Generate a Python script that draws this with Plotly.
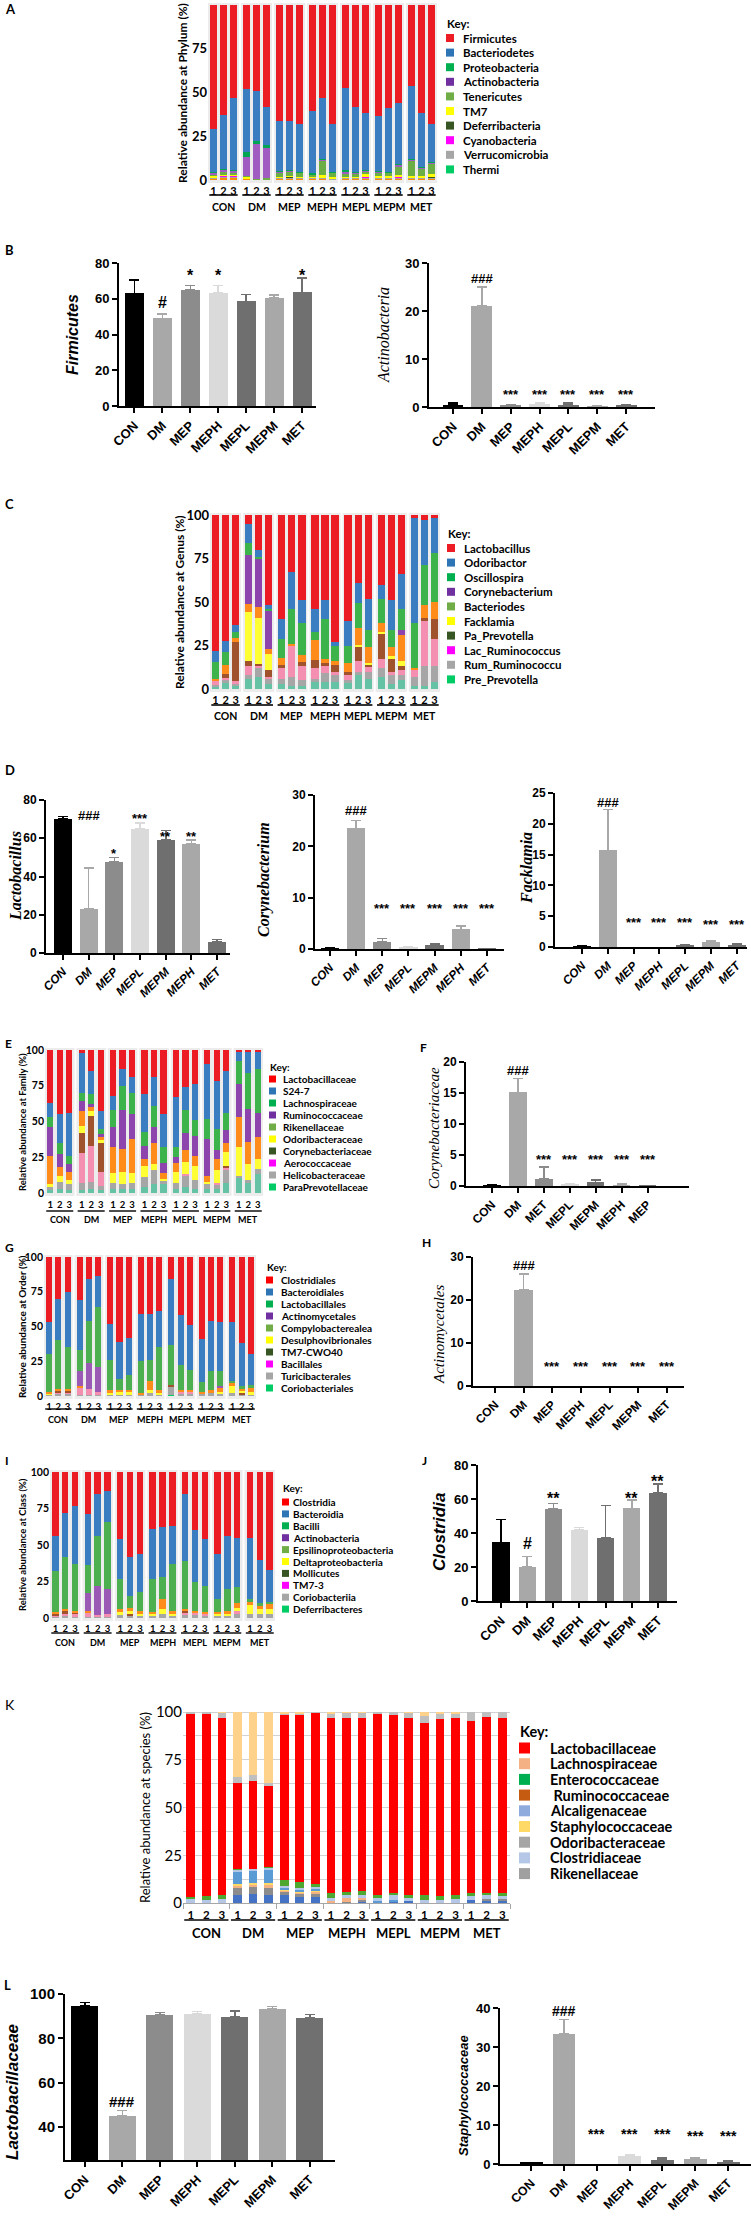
import plotly.graph_objects as go

W, H = 751, 2217
LATO = "Lato"
ARIAL = "Liberation Sans"
SERIF = "Liberation Serif"

# ====================== DATA ======================
groups = ["CON", "DM", "MEP", "MEPH", "MEPL", "MEPM", "MET"]
replicates = ["1", "2", "3"]

# ---- A: phylum (3 replicates x 7 groups) ----
phylum_key = ["Firmicutes", "Bacteriodetes", "Proteobacteria", "Actinobacteria", "Tenericutes",
              "TM7", "Deferribacteria", "Cyanobacteria", "Verrucomicrobia", "Thermi"]
phylum_key_colors = ["#ed1c24", "#2e75b6", "#00b050", "#7030a0", "#70ad47",
                     "#ffff00", "#375623", "#ff00ff", "#a6a6a6", "#00cc66"]
phy_firmicutes = [71, 63, 53, 48, 49, 58, 66, 66.5, 68, 60.5, 53, 68, 47.5, 58, 61.5, 63.5, 59, 56, 46, 61.5, 68]
phy_bacteriodetes = [24.4, 30.7, 41.2, 36, 28.7, 22, 28.9, 27.8, 27.4, 35.7, 34.8, 27.2, 47, 37.7, 32.7, 31.2, 36.4, 34.9, 42, 31.2, 21.7]
phy_proteobacteria = [0.5, 0.5, 0.5, 3, 1.5, 1.5, 0.3, 0.3, 0.3, 0.5, 0.5, 0.5, 0.5, 0.3, 0.3, 0.3, 0.3, 0.3, 0.3, 0.3, 0.3]
phy_actinobacteria = [1, 1.5, 1, 10.5, 20, 17.5, 0.3, 0.5, 0.3, 0.3, 0.5, 0.3, 1.5, 0.5, 0.5, 0.5, 0.3, 1.5, 0.5, 0.5, 0.3]
phy_tenericutes = [0.5, 1, 1, 0.5, 0.3, 0.5, 2.5, 2.5, 2, 1, 8.5, 2.5, 1.5, 1.5, 1.5, 2, 1.5, 4.5, 9, 4, 6.5]
phy_tm7 = [1, 1, 1, 1, 0, 0, 0.5, 0.5, 0.5, 0.5, 1, 0.5, 0.5, 0.5, 2, 1, 1, 1, 0.5, 1, 1]
phy_deferribacteria = [0, 0, 0, 0, 0, 0, 0, 0.3, 0, 0, 0, 0, 0, 0, 0, 0, 0, 0, 0, 0, 0.5]
phy_cyanobacteria = [0.3, 0.5, 0.5, 0, 0, 0, 0.2, 0.3, 0.2, 0.2, 0.2, 0.2, 0.2, 0.2, 0.2, 0.2, 0.2, 0.5, 0.2, 0.2, 0.2]
phy_verrucomicrobia = [0.3, 0.3, 0.3, 0, 0, 0, 0.3, 0.3, 0.3, 0.3, 0.5, 0.3, 0.3, 0.3, 0.3, 0.3, 0.3, 0.3, 0.5, 0.3, 0.5]
phy_others = [1, 1.5, 1.5, 1, 0.5, 0.5, 1, 1, 1, 1, 1, 0.5, 1, 1, 1, 1, 1, 1, 1, 1, 1]

# ---- B: phylum group means ----
firm_mean = [63, 49, 65, 63.2, 58.5, 60.3, 63.5]
firm_err = [7.5, 2.5, 2.5, 4.3, 3.8, 1.7, 8]
firm_sig = ["", "#", "*", "*", "", "", "*"]
actino_mean = [0.5, 21, 0.3, 0.6, 0.5, 0.2, 0.3]
actino_err = [0.3, 4, 0.2, 0.3, 0.3, 0.1, 0.1]
actino_sig = ["", "###", "***", "***", "***", "***", "***"]

# ---- C: genus ----
genus_key = ["Lactobacillus", "Odoribactor", "Oscillospira", "Corynebacterium", "Bacteriodes",
             "Facklamia", "Pa_Prevotella", "Lac_Ruminococcus", "Rum_Ruminococcu", "Pre_Prevotella"]
genus_key_colors = ["#ed1c24", "#2e75b6", "#00b050", "#7030a0", "#70ad47",
                    "#ffff00", "#375623", "#ff00ff", "#a6a6a6", "#00cc66"]
gen_lactobacillus = [78.4, 72.5, 63, 5, 20, 52, 60, 33, 49, 54, 49, 73, 61, 39, 48, 40, 49, 34, 2, 3, 2]
gen_odoribactor = [6.1, 6.5, 4, 11, 4, 2, 11, 21, 13, 13, 11, 2, 14, 11.5, 18, 8, 17, 20, 60, 26, 20]
gen_oscillospira = [9.6, 7, 3.5, 7, 1, 1, 11, 20, 18.5, 5, 23, 9, 10, 14.5, 10, 14, 10, 12, 26, 23, 28]
gen_corynebacterium = [0, 0, 0, 28, 28, 22, 0, 0, 0, 0, 0, 0, 0, 0, 0, 0, 0, 3, 0, 0, 0]
gen_other_a = [1.5, 5.5, 2.5, 5, 6, 3, 4, 1, 4, 11.5, 2, 2, 5, 9.5, 9, 5, 5, 15, 1, 7, 10]
gen_facklamia = [0, 0, 0, 28, 26.5, 9, 0, 0, 0, 0, 0, 0, 0, 1, 1, 1, 2, 3, 0, 0, 0]
gen_other_b = [0, 2, 22.5, 3, 1, 4, 2, 0, 2.5, 4.5, 1.5, 4, 2, 8.5, 1.5, 15, 7, 2, 0, 2, 11]
gen_lac_ruminococcus = [1.9, 1.5, 1.5, 5, 1.5, 1, 6, 18, 8, 6, 4.5, 2, 3, 6, 2.5, 5, 2, 3, 4, 26, 16]
gen_rum_ruminococcu = [1, 1.5, 1, 2, 5, 3, 3, 5, 3, 2, 5, 4, 1.5, 2, 4, 5, 5, 3, 5, 11, 9]
gen_pre_prevotella = [1.5, 3.5, 2, 6, 7, 3, 3, 2, 2, 4, 4, 4, 3.5, 8, 6, 7, 3, 5, 2, 2, 4]

# ---- D: genus group means ----
lac_cats = ["CON", "DM", "MEP", "MEPL", "MEPM", "MEPH", "MET"]
lac_mean = [70, 23, 47.5, 65, 59, 57, 6]
lac_err = [1.5, 21.5, 2.5, 3, 5, 2, 1]
lac_sig = ["", "###", "*", "***", "**", "**", ""]
cory_cats = ["CON", "DM", "MEP", "MEPL", "MEPM", "MEPH", "MET"]
cory_mean = [0.1, 23.5, 1.4, 0.3, 0.8, 3.8, 0.05]
cory_err = [0.05, 1.5, 0.6, 0.1, 0.2, 0.7, 0.02]
cory_sig = ["", "###", "***", "***", "***", "***", "***"]
fack_cats = ["CON", "DM", "MEP", "MEPH", "MEPL", "MEPM", "MET"]
fack_mean = [0.1, 15.7, 0, 0, 0.3, 0.85, 0.35]
fack_err = [0.05, 6.6, 0, 0, 0.1, 0.15, 0.2]
fack_sig = ["", "###", "***", "***", "***", "***", "***"]

# ---- E: family ----
family_key = ["Lactobacillaceae", "S24-7", "Lachnospiraceae", "Ruminococcaceae", "Rikenellaceae",
              "Odoribacteraceae", "Corynebacteriaceae", "Aerococcaceae", "Helicobacteraceae", "ParaPrevotellaceae"]
family_key_colors = ["#ff0000", "#2e75b6", "#00b050", "#7030a0", "#70ad47",
                     "#ffff00", "#375623", "#ff00ff", "#a6a6a6", "#00cc66"]
fam_lactobacillaceae = [37, 45, 44, 2, 15, 43, 32, 13, 19, 31, 19, 45, 33, 26, 24, 10, 22, 15, 1, 1, 1]
fam_s24_7 = [10, 20, 30, 28, 16, 12, 10, 12, 11, 26, 20, 23, 35, 16, 25, 38, 33, 29, 7, 15, 12]
fam_lachnospiraceae = [7, 8, 6, 6, 7, 4, 12, 17, 15, 10, 15, 11, 7, 16, 11, 14, 15, 12, 16, 25, 31]
fam_ruminococcaceae = [20, 9, 5, 7, 2, 2, 14, 27, 17, 9, 11, 7, 4, 12, 14, 26, 6, 9, 23, 23, 17]
fam_other_a = [20, 6, 6, 10, 3, 2, 18, 16, 24, 5, 15, 4, 6, 8, 7, 4, 8, 6, 21, 16, 15]
fam_odoribacteraceae = [2, 4, 3, 5, 3, 2, 7, 9, 7, 8, 4, 1, 8, 9, 10, 2, 9, 10, 20, 11, 7]
fam_corynebacteriaceae = [0, 0, 0, 14, 21, 20, 0, 0, 0, 0, 0, 0, 0, 0, 0, 0, 0, 1, 0, 0, 0]
fam_aerococcaceae = [0, 0, 0, 21, 25, 10, 0, 0, 0, 0, 0, 0, 0, 1, 0, 0, 1, 2, 0, 0, 0]
fam_helicobacteraceae = [2, 5, 4, 5, 5, 3, 4, 3, 4, 7, 10, 3, 4, 8, 6, 3, 3, 9, 1, 2, 4]
fam_paraprevotellaceae = [2, 3, 2, 2, 3, 2, 3, 3, 3, 4, 6, 6, 3, 4, 3, 3, 3, 7, 11, 7, 13]

# ---- F ----
fcory_cats = ["CON", "DM", "MET", "MEPL", "MEPM", "MEPH", "MEP"]
fcory_mean = [0.1, 15.1, 1.2, 0.2, 0.6, 0.15, 0.05]
fcory_err = [0.05, 2.2, 1.9, 0.1, 0.4, 0.25, 0.02]
fcory_sig = ["", "###", "***", "***", "***", "***", "***"]

# ---- G: order ----
order_key = ["Clostridiales", "Bacteroidiales", "Lactobacillales", "Actinomycetales", "Compylobacterealea",
             "Desulphovibrionales", "TM7-CWO40", "Bacillales", "Turicibacterales", "Coriobacteriales"]
order_key_colors = ["#ff0000", "#2e75b6", "#00b050", "#7030a0", "#70ad47",
                    "#ffff00", "#375623", "#ff00ff", "#a6a6a6", "#00cc66"]
ord_clostridiales = [47, 30, 25, 31, 16, 14, 48, 61, 58, 41, 41, 39, 16, 42, 49, 59, 46, 47, 47, 62, 70]
ord_bacteroidiales = [23, 30, 40, 36, 30, 22, 26, 27, 27, 34, 33, 26, 47, 36, 32, 31, 36, 35, 42, 31, 22]
ord_lactobacillales = [27, 35, 30, 15, 30, 43, 22, 8, 11, 23, 15, 31, 29, 18, 15, 7, 14, 11, 1, 2, 2]
ord_actinomycetales = [0, 0, 0, 11, 19, 18, 0, 0, 0, 0, 0, 0, 0, 0, 0, 0, 0, 1, 0, 0, 0]
ord_other_a = [1, 1.5, 1.5, 1, 0, 0, 1.5, 1, 1, 1, 7, 2, 0, 1, 1, 1, 2, 3, 3, 1, 3]
ord_desulphovibrionales = [1, 0, 0, 0, 0, 0, 1.5, 2, 2, 0, 2, 1, 0, 0, 0, 0, 0, 1, 5, 2, 2]
ord_tm7 = [0, 1, 1, 0, 0, 0, 0, 0, 0, 0, 0, 0, 1, 0, 0, 0, 0, 0, 0, 1, 0]
ord_bacillales = [0, 1, 1, 5, 4, 2, 0, 0, 0, 0, 0, 0, 0, 1, 1, 0, 0, 0, 0, 0, 0]
ord_turicibacterales = [1, 1.5, 1.5, 1, 1, 1, 1, 1, 1, 1, 2, 1, 6, 2, 2, 2, 2, 2, 2, 1, 1]
ord_coriobacteriales = [0, 0, 0, 0, 0, 0, 0, 0, 0, 0, 0, 0, 1, 0, 0, 0, 0, 0, 0, 0, 0]

# ---- H ----
actm_cats = ["CON", "DM", "MEP", "MEPH", "MEPL", "MEPM", "MET"]
actm_mean = [0, 22.3, 0, 0, 0, 0, 0]
actm_err = [0, 3.8, 0, 0, 0, 0, 0]
actm_sig = ["", "###", "***", "***", "***", "***", "***"]

# ---- I: class ----
class_key = ["Clostridia", "Bacteroidia", "Bacilli", "Actinobacteria", "Epsilinoproteobacteria",
             "Deltaproteobacteria", "Mollicutes", "TM7-3", "Coriobacteriia", "Deferribacteres"]
class_key_colors = ["#ff0000", "#2e75b6", "#00b050", "#7030a0", "#70ad47",
                    "#ffff00", "#375623", "#ff00ff", "#a6a6a6", "#00cc66"]
cls_clostridia = [44, 28, 23, 29, 15, 13, 46, 58, 56, 39, 38, 37, 15, 40, 46, 56, 44, 45, 45, 60, 67]
cls_bacteroidia = [24, 30, 40, 35, 29, 21, 27, 27, 26, 34, 34, 26, 46, 35, 32, 31, 36, 34, 42, 30, 22]
cls_bacilli = [28, 36, 32, 19, 34, 46, 21, 8, 13, 23, 15, 32, 33, 20, 18, 9, 15, 11, 2, 2, 1]
cls_actinobacteria = [0, 0, 0, 12, 20, 17, 0, 0, 0, 0, 0, 0, 0, 0, 0, 0, 0, 0, 0, 0, 0]
cls_other_a = [1, 1.5, 1, 1, 0, 0, 2, 2, 2, 1, 7, 2, 1, 1, 1, 1, 2, 3, 2, 2, 4]
cls_deltaproteobacteria = [0, 0, 0, 0, 0, 0, 2, 2, 1, 1, 3, 1, 0, 0, 0, 1, 1, 2, 6, 3, 3]
cls_mollicutes = [1, 1.5, 1.5, 0, 0, 0, 0, 1, 0, 0, 0, 0, 1, 0, 0, 0, 0, 0, 0, 0, 0]
cls_tm7_3 = [1, 1.5, 1.5, 3, 1, 2, 0, 0, 0, 0, 0, 0, 2, 2, 1, 0, 0, 2, 0, 0, 0]
cls_coriobacteriia = [1, 1.5, 1, 1, 1, 1, 2, 2, 2, 2, 3, 2, 2, 2, 2, 2, 2, 3, 3, 3, 3]

# ---- J ----
clos_mean = [34.5, 20, 54, 42, 37, 54.5, 63.5]
clos_err = [13.5, 6.3, 3.5, 1.2, 19.3, 4.8, 5.3]
clos_sig = ["", "#", "**", "", "", "**", "**"]

# ---- K: species ----
species_key = ["Lactobacillaceae", "Lachnospiraceae", "Enterococcaceae", " Ruminococcaceae", "Alcaligenaceae",
               "Staphylococcaceae", "Odoribacteraceae", "Clostridiaceae", "Rikenellaceae"]
species_key_colors = ["#ff0000", "#f4b183", "#00b050", "#c55a11", "#8faadc",
                      "#ffd966", "#a5a5a5", "#b4c7e7", "#a0a0a0"]
sp_dark_blue = [0, 0, 0, 4, 4.5, 4, 4, 3, 3, 0.5, 0, 1, 0, 1, 1, 0, 0, 0, 1.5, 1.5, 1.5]
sp_rikenellaceae = [0, 0, 0, 4, 4, 4, 2, 2, 2, 0, 0.5, 0.5, 0, 0, 0, 0, 0, 0, 0, 0.5, 0.5]
sp_lachnospiraceae = [0, 0, 0, 1, 1, 1.5, 0.5, 0.5, 1, 0.5, 2, 1.5, 0, 0, 0, 0, 0, 0, 0, 0, 0]
sp_yellow = [0, 0, 0, 1, 1, 1, 0.5, 0.5, 0.5, 0, 0, 0, 0, 0, 0, 0, 0, 0, 0, 0, 0]
sp_alcaligenaceae = [0, 0, 0, 6.5, 6.5, 7, 1, 1, 1, 0, 0, 0, 1, 0.5, 0, 0, 0, 0, 0, 0, 0]
sp_clostridiaceae = [2.5, 1.5, 2, 1, 1, 1, 1, 1, 1, 1.5, 1.5, 1, 1.5, 2.5, 1.5, 1.5, 1.5, 2, 2, 2, 1.5]
sp_enterococcaceae = [0.5, 2, 2, 0.5, 0, 0.5, 3, 3, 1.5, 2.5, 2, 2.5, 1.5, 1.5, 1.5, 2.5, 2, 2, 1.5, 1.5, 1.5]
sp_lactobacillaceae = [96, 95.5, 93, 45, 46, 42, 86.5, 87.5, 89.5, 92, 91, 90.5, 95, 93, 93, 90.5, 93, 93, 90.5, 92, 92]
sp_odoribacteraceae = [1, 1, 2.5, 3, 3, 2, 0.5, 0.5, 0.5, 2, 2.5, 2.5, 1, 1.5, 2.5, 3.5, 2.5, 2, 4.5, 2.5, 3]
sp_staphylococcaceae = [0, 0, 0.5, 34, 33, 37, 1, 1, 0, 1, 0.5, 0.5, 0, 0, 0.5, 2, 1, 1, 0, 0, 0]

# ---- L ----
lacf_mean = [94.7, 45, 90.5, 91, 89.8, 93.2, 89.2]
lacf_err = [1.5, 2.3, 1.2, 1.1, 2.6, 1.1, 1.6]
lacf_sig = ["", "###", "***", "***", "***", "***", "***"]
staph_mean = [0.3, 33.3, 0, 2, 1.0, 1.3, 0.6]
staph_err = [0.1, 3.7, 0, 0.3, 0.5, 0.25, 0.3]
staph_sig = ["", "###", "***", "***", "***", "***", "***"]

bar_shades = ["#000000", "#a8a8a8", "#8c8c8c", "#dadada", "#6f6f6f", "#a8a8a8", "#707070"]

# ====================== BUILD ======================
fig = go.Figure()
LAY, ANN, SHP = {}, [], []
n_ax = [0]


def X(p):
    return p / W


def Y(p):
    return 1 - p / H


def add_axes(x0, x1, ytop, ybot, xa, ya):
    n_ax[0] += 1
    s = "" if n_ax[0] == 1 else str(n_ax[0])
    LAY["xaxis" + s] = dict(domain=[X(x0), X(x1)], anchor="y" + s, **xa)
    LAY["yaxis" + s] = dict(domain=[Y(ybot), Y(ytop)], anchor="x" + s, **ya)
    return "x" + s, "y" + s


def label(text, x, y, size, family=LATO, xanchor="left", angle=0):
    ANN.append(dict(text=text, x=X(x), y=Y(y), xref="paper", yref="paper", showarrow=False,
                    xanchor=xanchor, yanchor="middle", textangle=angle,
                    font=dict(family=family, size=size, color="black")))


def stacked(x0, x1, y100, y0, series, gap, bw, ytick_fs, rep_fs, rep_y, line_y, grp_y, grp_fs,
            pad_t=2, pad_b=3, facet=True, grid=False, yweight="bold", xline=False, line_w=1.6):
    ppu = (y0 - y100) / 100.0
    yr = [-pad_b / ppu, 100 + pad_t / ppu]
    P = 3 + gap
    pos = [g * P + r for g in range(7) for r in range(3)]
    e = 0.5 + max(gap - 0.2, 0) / 2
    xr = [-e, 6 * P + 2 + e]
    dom_bot = y0 + pad_b
    standoff = int(round(max(rep_y - rep_fs * 0.5 - dom_bot - 2, 0)))
    xa_kw = dict(range=xr, tickmode="array", tickvals=pos, ticktext=replicates * 7, ticks="",
                 showgrid=False, zeroline=False, showline=xline, linecolor="#a6a6a6", linewidth=1,
                 tickfont=dict(family=LATO, size=rep_fs, color="black", weight="bold"),
                 ticklabelstandoff=standoff)
    if xline:
        xa_kw["minor"] = dict(tickmode="array", tickvals=[g * P - 0.5 for g in range(8)],
                              ticks="outside", ticklen=5, tickwidth=1, tickcolor="#a6a6a6")
    ya_kw = dict(range=yr, tickmode="array", tickvals=[0, 25, 50, 75, 100], ticks="",
                 showgrid=grid, zeroline=False, showline=False,
                 tickfont=dict(family=LATO, size=ytick_fs, color="black", weight=yweight))
    if grid:
        ya_kw.update(gridcolor="#d2d2d2", gridwidth=1,
                     minor=dict(dtick=12.5, tick0=0, showgrid=True, gridcolor="#d2d2d2", gridwidth=1))
    xa, ya = add_axes(x0, x1, y100 - pad_t, dom_bot, xa_kw, ya_kw)
    for name, color, vals in series:
        fig.add_trace(go.Bar(x=pos, y=vals, width=bw, name=name,
                             marker=dict(color=color, line=dict(width=0)),
                             xaxis=xa, yaxis=ya, showlegend=False, hoverinfo="skip"))
    for g in range(7):
        if facet:
            SHP.append(dict(type="rect", xref=xa, yref=ya + " domain", x0=g * P - e, x1=g * P + 2 + e,
                            y0=0, y1=1, fillcolor="#ececec", line=dict(width=0), layer="below"))
        SHP.append(dict(type="line", xref=xa, yref="paper", x0=g * P - 0.42, x1=g * P + 2.42,
                        y0=Y(line_y), y1=Y(line_y), line=dict(color="black", width=line_w)))
        ANN.append(dict(text="<b>%s</b>" % groups[g], x=g * P + 1, y=Y(grp_y), xref=xa, yref="paper",
                        showarrow=False, xanchor="center", yanchor="middle",
                        font=dict(family=LATO, size=grp_fs, color="black")))
    return xa, ya


def key(x_sq, sq, x_txt, y_key, y_first, step, names, colors, fs, weight="<b>%s</b>"):
    label("<b>Key:</b>", x_sq - 1, y_key, fs)
    for i, (n, c) in enumerate(zip(names, colors)):
        yy = y_first + i * step
        SHP.append(dict(type="rect", xref="paper", yref="paper", x0=X(x_sq), x1=X(x_sq + sq),
                        y0=Y(yy + sq / 2), y1=Y(yy - sq / 2), fillcolor=c, line=dict(width=0)))
        label(weight % n, x_txt, yy, fs)


def gp(x0, x1, ytop, y0, cats, means, errs, sigs, sig_y, yr, ytv, xr, bw,
       tick_fs, xl_fs, sig_fs, xl_italic=False):
    xa_kw = dict(range=xr, tickmode="array", tickvals=list(range(len(cats))), ticktext=cats,
                 tickangle=-45, showline=True, linecolor="black", linewidth=2, ticks="outside",
                 ticklen=5, tickwidth=2, tickcolor="black", showgrid=False, zeroline=False,
                 tickfont=dict(family=ARIAL, size=xl_fs, color="black", weight="bold",
                               style="italic" if xl_italic else "normal"))
    ya_kw = dict(range=yr, tickmode="array", tickvals=ytv, showline=True, linecolor="black",
                 linewidth=2, ticks="outside", ticklen=5, tickwidth=2, tickcolor="black",
                 showgrid=False, zeroline=False,
                 tickfont=dict(family=ARIAL, size=tick_fs, color="black", weight="bold"))
    xa, ya = add_axes(x0, x1, ytop, y0, xa_kw, ya_kw)
    for i in range(len(cats)):
        fig.add_trace(go.Bar(x=[i], y=[means[i]], width=bw, name=cats[i],
                             marker=dict(color=bar_shades[i], line=dict(width=0)),
                             error_y=dict(type="data", array=[errs[i]], arrayminus=[0], symmetric=False,
                                          color=bar_shades[i], thickness=1.5, width=5,
                                          visible=errs[i] > 0.03),
                             xaxis=xa, yaxis=ya, showlegend=False, hoverinfo="skip"))
    for i, s in enumerate(sigs):
        if s:
            ANN.append(dict(text="<b>%s</b>" % s, x=i, y=sig_y[i], xref=xa, yref=ya, showarrow=False,
                            xanchor="center", yanchor="middle", yshift=-3 if "*" in s else 0,
                            font=dict(family=ARIAL, size=sig_fs, color="black")))
    return xa, ya


# ---------- A ----------
stacked(208, 437, 5, 180,
        [("Others", "#ff8c00", phy_others),
         ("Verrucomicrobia", "#a6a6a6", phy_verrucomicrobia),
         ("Cyanobacteria", "#ff00ff", phy_cyanobacteria),
         ("Deferribacteria", "#375623", phy_deferribacteria),
         ("TM7", "#ffff00", phy_tm7),
         ("Tenericutes", "#6aae45", phy_tenericutes),
         ("Actinobacteria", "#a05cc0", phy_actinobacteria),
         ("Proteobacteria", "#00a651", phy_proteobacteria),
         ("Bacteriodetes", "#3a7dc0", phy_bacteriodetes),
         ("Firmicutes", "#ec1c24", phy_firmicutes)],
        gap=0.3, bw=0.72, ytick_fs=13, rep_fs=11, rep_y=188, line_y=195, grp_y=207, grp_fs=10.5)
label("<b>Relative abundance at Phylum (%)</b>", 182, 93, 12, xanchor="center", angle=-90)
key(446, 8, 461, 24, 38, 14.6, phylum_key, phylum_key_colors, 11.5)
label("<b>A</b>", 3, 9, 13)

# ---------- B ----------
label("<b>B</b>", 3, 250, 13)
gp(119, 316, 263, 406, groups, firm_mean, firm_err, firm_sig,
   [None, 58, 74.5, 74.5, None, None, 74.5], [0, 80], [0, 20, 40, 60, 80], [-0.55, 6.5], 0.68,
   13, 13, 16)
label("<b><i>Firmicutes</i></b>", 72, 335, 16, family=ARIAL, xanchor="center", angle=-90)
gp(429, 655, 263, 407, groups, actino_mean, actino_err, actino_sig,
   [None, 26.8, 3.2, 3.2, 3.2, 3.2, 3.2], [0, 30], [0, 10, 20, 30], [-0.83, 7.0], 0.72,
   13, 13, 13)
label("<i>Actinobacteria</i>", 383, 335, 16, family=SERIF, xanchor="center", angle=-90)

# ---------- C ----------
stacked(210, 440, 515, 689,
        [("Pre_Prevotella", "#66c2a5", gen_pre_prevotella),
         ("Rum_Ruminococcu", "#a6a6a6", gen_rum_ruminococcu),
         ("Lac_Ruminococcus", "#f48fb1", gen_lac_ruminococcus),
         ("Other B", "#a0522d", gen_other_b),
         ("Facklamia", "#ffff33", gen_facklamia),
         ("Other A", "#ff8c1a", gen_other_a),
         ("Corynebacterium", "#8e44ad", gen_corynebacterium),
         ("Oscillospira", "#3cb44b", gen_oscillospira),
         ("Odoribactor", "#3a7dc0", gen_odoribactor),
         ("Lactobacillus", "#ec1c24", gen_lactobacillus)],
        gap=0.3, bw=0.72, ytick_fs=13, rep_fs=11, rep_y=699, line_y=705, grp_y=716, grp_fs=10.5)
label("<b>Relative abundance at Genus (%)</b>", 179, 602, 12, xanchor="center", angle=-90)
key(447, 8, 462, 533, 548, 14.6, genus_key, genus_key_colors, 11.5)
label("<b>C</b>", 3, 504, 13)

# ---------- D ----------
label("<b>D</b>", 3, 770, 13)
gp(46, 230, 800, 953, lac_cats, lac_mean, lac_err, lac_sig,
   [None, 72, 53.6, 72, 62.3, 62.3, None], [0, 80], [0, 20, 40, 60, 80], [-0.66, 6.5], 0.7,
   12, 12, 13, xl_italic=True)
label("<b><i>Lactobacillus</i></b>", 15, 876, 16, family=SERIF, xanchor="center", angle=-90)
gp(315, 504, 795, 949, cory_cats, cory_mean, cory_err, cory_sig,
   [None, 27, 8.4, 8.4, 8.4, 8.4, 8.4], [0, 30], [0, 10, 20, 30], [-0.57, 6.65], 0.7,
   12, 12, 13, xl_italic=True)
label("<b><i>Corynebacterium</i></b>", 264, 880, 16, family=SERIF, xanchor="center", angle=-90)
gp(555, 747, 793, 947, fack_cats, fack_mean, fack_err, fack_sig,
   [None, 23.4, 4.5, 4.5, 4.5, 4.1, 4.1], [0, 25], [0, 5, 10, 15, 20, 25], [-1.05, 6.4], 0.7,
   12, 12, 13, xl_italic=True)
label("<b><i>Facklamia</i></b>", 526, 868, 16, family=SERIF, xanchor="center", angle=-90)

# ---------- E ----------
stacked(45, 263, 1050, 1193,
        [("ParaPrevotellaceae", "#66c2a5", fam_paraprevotellaceae),
         ("Helicobacteraceae", "#a6a6a6", fam_helicobacteraceae),
         ("Aerococcaceae", "#f48fb1", fam_aerococcaceae),
         ("Corynebacteriaceae", "#a0522d", fam_corynebacteriaceae),
         ("Odoribacteraceae", "#ffff33", fam_odoribacteraceae),
         ("Other", "#ff8c1a", fam_other_a),
         ("Ruminococcaceae", "#8e44ad", fam_ruminococcaceae),
         ("Lachnospiraceae", "#3cb44b", fam_lachnospiraceae),
         ("S24-7", "#3a7dc0", fam_s24_7),
         ("Lactobacillaceae", "#ec1c24", fam_lactobacillaceae)],
        gap=0.3, bw=0.66, ytick_fs=10.5, rep_fs=9.5, rep_y=1204, line_y=1211, grp_y=1219, grp_fs=9,
        line_w=1.4)
label("<b>Relative abundance at Family (%)</b>", 22, 1122, 9.5, xanchor="center", angle=-90)
key(269, 7, 281, 1067, 1079, 12, family_key, family_key_colors, 10)
label("<b>E</b>", 3, 1043, 12)

# ---------- F ----------
label("<b>F</b>", 418, 1047, 12)
gp(466, 689, 1062, 1186, fcory_cats, fcory_mean, fcory_err, fcory_sig,
   [None, 18.7, 4.8, 4.8, 4.8, 4.8, 4.8], [0, 20], [0, 5, 10, 15, 20], [-1.0, 7.6], 0.68,
   12, 12, 13)
label("<i>Corynebacteriaceae</i>", 434, 1128, 15, family=SERIF, xanchor="center", angle=-90)

# ---------- G ----------
stacked(44, 256, 1257, 1396,
        [("Coriobacteriales", "#00cc66", ord_coriobacteriales),
         ("Turicibacterales", "#a6a6a6", ord_turicibacterales),
         ("Bacillales", "#f48fb1", ord_bacillales),
         ("TM7-CWO40", "#a0522d", ord_tm7),
         ("Desulphovibrionales", "#ffff33", ord_desulphovibrionales),
         ("Other", "#ff8c1a", ord_other_a),
         ("Actinomycetales", "#9b59b6", ord_actinomycetales),
         ("Lactobacillales", "#4caf50", ord_lactobacillales),
         ("Bacteroidiales", "#3a7dc0", ord_bacteroidiales),
         ("Clostridiales", "#ec1c24", ord_clostridiales)],
        gap=0.3, bw=0.66, ytick_fs=10.5, rep_fs=9.5, rep_y=1403, line_y=1409, grp_y=1419, grp_fs=9,
        line_w=1.4)
label("<b>Relative abundance at Order (%)</b>", 22, 1327, 10, xanchor="center", angle=-90)
key(266, 7, 279, 1267, 1280, 12, order_key, order_key_colors, 10)
label("<b>G</b>", 3, 1247, 12)

# ---------- H ----------
label("<b>H</b>", 420, 1242, 12)
gp(473, 684, 1257, 1386, actm_cats, actm_mean, actm_err, actm_sig,
   [None, 28, 5.3, 5.3, 5.3, 5.3, 5.3], [0, 30], [0, 10, 20, 30], [-0.77, 6.6], 0.68,
   12, 12, 13)
label("<i>Actinomycetales</i>", 439, 1335, 15, family=SERIF, xanchor="center", angle=-90)

# ---------- I ----------
stacked(50, 275, 1472, 1618,
        [("Coriobacteriia", "#a6a6a6", cls_coriobacteriia),
         ("TM7-3", "#f48fb1", cls_tm7_3),
         ("Mollicutes", "#a0522d", cls_mollicutes),
         ("Deltaproteobacteria", "#ffff33", cls_deltaproteobacteria),
         ("Other", "#ff8c1a", cls_other_a),
         ("Actinobacteria", "#9b59b6", cls_actinobacteria),
         ("Bacilli", "#4caf50", cls_bacilli),
         ("Bacteroidia", "#3a7dc0", cls_bacteroidia),
         ("Clostridia", "#ec1c24", cls_clostridia)],
        gap=0.3, bw=0.66, ytick_fs=10.5, rep_fs=9.5, rep_y=1627, line_y=1633, grp_y=1642, grp_fs=9,
        line_w=1.4)
label("<b>Relative abundance at Class (%)</b>", 22, 1545, 9.5, xanchor="center", angle=-90)
key(282, 7, 291, 1488, 1502, 11.9, class_key, class_key_colors, 10)
label("<b>I</b>", 3, 1460, 12)

# ---------- J ----------
label("<b>J</b>", 420, 1460, 12)
gp(478, 677, 1465, 1601, groups, clos_mean, clos_err, clos_sig,
   [None, 34, 61.8, None, None, 61.8, 72.3], [0, 80], [0, 20, 40, 60, 80], [-0.88, 6.73], 0.66,
   13, 13, 16)
label("<b><i>Clostridia</i></b>", 439, 1532, 17, family=ARIAL, xanchor="center", angle=-90)

# ---------- K ----------
stacked(183, 510, 1712, 1903,
        [("Dark", "#4472c4", sp_dark_blue),
         ("Rikenellaceae", "#8c8c8c", sp_rikenellaceae),
         ("Lachnospiraceae", "#f4b183", sp_lachnospiraceae),
         ("Other", "#ffd966", sp_yellow),
         ("Alcaligenaceae", "#5b9bd5", sp_alcaligenaceae),
         ("Clostridiaceae", "#b4c7e7", sp_clostridiaceae),
         ("Enterococcaceae", "#4ea72e", sp_enterococcaceae),
         ("Lactobacillaceae", "#ff0000", sp_lactobacillaceae),
         ("Odoribacteraceae", "#bfbfbf", sp_odoribacteraceae),
         ("Staphylococcaceae", "#ffd28c", sp_staphylococcaceae)],
        gap=0.0, bw=0.56, ytick_fs=15, rep_fs=11.5, rep_y=1912, line_y=1920, grp_y=1933, grp_fs=13,
        pad_t=4, pad_b=0, facet=False, grid=True, yweight="normal", xline=True, line_w=1.6)
label("Relative abundance at species (%)", 145, 1808, 13, xanchor="center", angle=-90)
key(519, 11, 548, 1731, 1748, 15.7, species_key, species_key_colors, 14.5)
label("K", 3, 1705, 14)

# ---------- L ----------
label("<b>L</b>", 2, 1985, 13)
gp(65, 335, 1994, 2160, groups, lacf_mean, lacf_err, lacf_sig,
   [None, 51.5, 100.5, 100.5, 100.5, 100.5, 100.5], [25, 100], [40, 60, 80, 100], [-0.53, 6.67], 0.72,
   15, 13, 15)
label("<b><i>Lactobacillaceae</i></b>", 12, 2092, 17, family=ARIAL, xanchor="center", angle=-90)
gp(500, 751, 2008, 2164, groups, staph_mean, staph_err, staph_sig,
   [None, 39.3, 8.4, 8.4, 8.4, 8.0, 8.0], [0, 40], [0, 10, 20, 30, 40], [-0.95, 6.7], 0.7,
   13, 12.5, 14)
label("<b><i>Staphylococcaceae</i></b>", 463, 2096, 13, family=ARIAL, xanchor="center", angle=-90)

fig.update_layout(width=W, height=H, margin=dict(l=0, r=0, t=0, b=0, pad=0, autoexpand=False),
                  paper_bgcolor="white", plot_bgcolor="white", barmode="stack", showlegend=False,
                  annotations=ANN, shapes=SHP, font=dict(family=ARIAL, color="black"), **LAY)
fig.write_html("out.html", config={"displayModeBar": False},
               post_script="document.body.style.margin='0';")
